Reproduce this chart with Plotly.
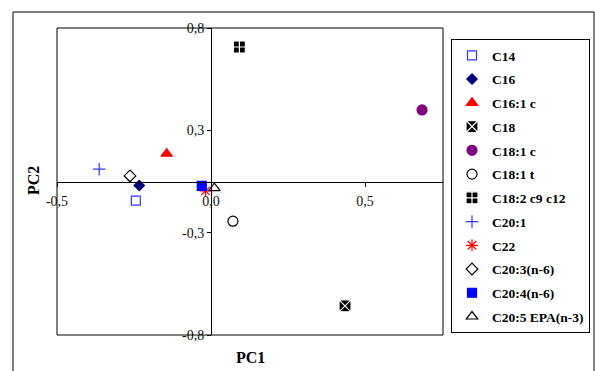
import plotly.graph_objects as go

names = ["C14", "C16", "C16:1 c", "C18", "C18:1 c", "C18:1 t", "C18:2 c9 c12",
         "C20:1", "C22", "C20:3(n-6)", "C20:4(n-6)", "C20:5 EPA(n-3)"]
pc1 = [-0.244, -0.233, -0.144, 0.435, 0.685, 0.071, 0.092, -0.363, -0.018, -0.263, -0.030, 0.011]
pc2 = [-0.100, -0.021, 0.145, -0.648, 0.373, -0.207, 0.701, 0.064, -0.049, 0.029, -0.023, -0.035]

symbols = ["square-open", "diamond", "triangle-up", "square-x", "circle", "circle-open",
           "square-cross", "cross-thin-open", "asterisk-open", "diamond-open", "square",
           "triangle-up-open"]
colors = ["#3333ff", "#000080", "#ff0000", "#000000", "#800080", "#000000", "#000000",
          "#3333ff", "#ff0000", "#000000", "#0000ff", "#000000"]
sizes = [9, 8, 10, 12, 10, 10, 12, 9, 10, 9, 9, 10]
line_colors = [None, None, None, "#ffffff", None, None, "#ffffff", None, None, None, None, None]

x_tickvals = [-0.5, 0.0, 0.5]
x_ticktext = ["-0,5", "0,0", "0,5"]
y_tickvals = [-0.8, -0.8 / 3, 0.8 / 3, 0.8]
y_ticktext = ["-0,8", "-0,3", "0,3", "0,8"]

W, H = 595, 371
L, R, T, B = 57, 152, 28, 36
pw, ph = W - L - R, H - T - B

def px2paper_x(px):
    return (px - L) / pw

def px2paper_y(py):
    return (H - B - py) / ph

SERIF = "Times New Roman, Liberation Serif, serif"

fig = go.Figure()
for i, n in enumerate(names):
    mk = dict(symbol=symbols[i], color=colors[i], size=sizes[i])
    if line_colors[i]:
        mk["line"] = dict(color=line_colors[i], width=1.2)
    else:
        mk["line"] = dict(color=colors[i], width=1.2)
    fig.add_trace(go.Scatter(x=[pc1[i]], y=[pc2[i]], mode="markers", name=n,
                             marker=mk, legendgroup=n, cliponaxis=False))

xrange = [-0.5, 0.753]
yrange = [-0.8, 0.8]
x0frac = (0 - xrange[0]) / (xrange[1] - xrange[0])
y0frac = (0 - yrange[0]) / (yrange[1] - yrange[0])

tickfont = dict(family=SERIF, size=14, color="#111111")
fig.update_layout(
    width=W, height=H,
    margin=dict(l=L, r=R, t=T, b=B, autoexpand=False),
    paper_bgcolor="white", plot_bgcolor="white",
    xaxis=dict(range=xrange, anchor="free", position=y0frac, showgrid=False,
               zeroline=False, showline=True, linecolor="#000000", linewidth=1,
               ticks="outside", ticklen=4, tickcolor="#000000", automargin=False,
               ticklabelstandoff=3,
               tickvals=x_tickvals, ticktext=x_ticktext, tickfont=tickfont),
    yaxis=dict(range=yrange, anchor="free", position=x0frac, showgrid=False,
               zeroline=False, showline=True, linecolor="#000000", linewidth=1,
               ticks="outside", ticklen=4, tickcolor="#000000", automargin=False,
               tickvals=y_tickvals, ticktext=y_ticktext, tickfont=tickfont),
    showlegend=True,
    legend=dict(x=px2paper_x(451), y=px2paper_y(39), xanchor="left", yanchor="top",
                bordercolor="#000000", borderwidth=1, bgcolor="white",
                traceorder="grouped", tracegroupgap=3.2,
                font=dict(family=SERIF, size=13.5, color="#000000", weight="bold")),
    shapes=[
        dict(type="rect", xref="paper", yref="paper", x0=0, x1=1, y0=0, y1=1,
             line=dict(color="#000000", width=1)),
        dict(type="rect", xref="paper", yref="paper",
             x0=px2paper_x(13), x1=px2paper_x(594), y0=px2paper_y(390), y1=px2paper_y(12),
             line=dict(color="#000000", width=1)),
    ],
    annotations=[
        dict(text="<b>PC1</b>", xref="paper", yref="paper", x=0.5, y=px2paper_y(357),
             xanchor="center", yanchor="middle", showarrow=False,
             font=dict(family=SERIF, size=16, color="#000000")),
        dict(text="<b>PC2</b>", xref="paper", yref="paper", x=px2paper_x(33), y=px2paper_y(181),
             xanchor="center", yanchor="middle", showarrow=False, textangle=-90,
             font=dict(family=SERIF, size=16, color="#000000")),
    ],
)

fig.write_html("out.html", config={"displayModeBar": False},
               post_script="document.body.style.margin='0';document.body.style.overflow='hidden';")
